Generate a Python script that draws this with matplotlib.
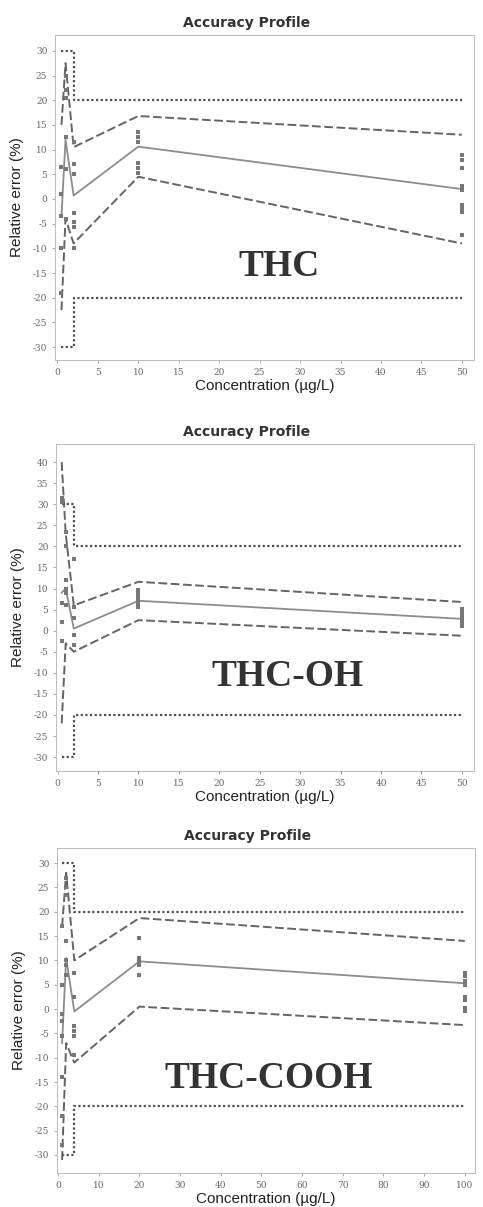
import matplotlib
matplotlib.use('Agg')
import matplotlib.pyplot as plt
import numpy as np

plt.rcParams['axes.unicode_minus'] = False

# ================= DATA =================
# THC
THC_CONC = [0.5, 1, 2, 10, 50]
THC_BIAS = [-3.5, 12, 0.7, 10.6, 2.0]
THC_UPPER = [15, 27.5, 10.5, 16.8, 13.0]
THC_LOWER = [-22.5, -4, -9, 4.5, -9.0]
THC_LIM_X = [0.5, 2, 2, 50]
THC_LIM_HI = [30, 30, 20, 20]
THC_LIM_LO = [-30, -30, -20, -20]
THC_POINTS = [
    [6.5, 1, -3.5, -10, -19],
    [25, 22, 20.5, 12.5, 6, -4],
    [11.6, 7, 5, -2.8, -4.6, -5.6, -10],
    [13.5, 12.5, 11.5, 7.2, 6.2, 5.3],
    [8.9, 7.9, 6.3, 2.6, 1.8, -1.2, -1.8, -2.6, -7.3],
]

# THC-OH
OH_CONC = [0.5, 1, 2, 10, 50]
OH_BIAS = [9, 10, 0.5, 7.1, 2.8]
OH_UPPER = [40, 23, 6, 11.6, 6.8]
OH_LOWER = [-22, -3, -5, 2.5, -1.2]
OH_LIM_X = [0.5, 2, 2, 50]
OH_LIM_HI = [30, 30, 20, 20]
OH_LIM_LO = [-30, -30, -20, -20]
OH_POINTS = [
    [31.5, 30.5, 6.5, 2, -2.5],
    [23.5, 20, 12, 10, 9, 6],
    [17, 5.5, 3, -1, -3.5],
    [9.7, 9, 8, 7, 6, 5.5],
    [5.2, 4.5, 3.5, 2.5, 2, 1.2],
]

# THC-COOH
COOH_CONC = [1, 2, 4, 20, 100]
COOH_BIAS = [-7, 10.5, -0.5, 9.8, 5.3]
COOH_UPPER = [17, 28, 10, 18.7, 14]
COOH_LOWER = [-31, -7, -11, 0.5, -3.3]
COOH_LIM_X = [1, 4, 4, 100]
COOH_LIM_HI = [30, 30, 20, 20]
COOH_LIM_LO = [-30, -30, -20, -20]
COOH_POINTS = [
    [17, 5, -1, -2.5, -5.5, -14, -22, -28],
    [27, 25, 23.5, 14, 10, 9, 7],
    [7.5, 2.5, -3.5, -4.5, -5.5, -9.5],
    [14.5, 10.5, 10, 9.5, 9, 7],
    [7.5, 6.8, 5.8, 5, 2.4, 1.8, 0.3, -0.3],
]

# ================= LAYOUT =================
FIG_W, FIG_H = 483, 1207
PANELS = [
    # axes box in px (left, top, right, bottom), ticks, limits, big label position
    dict(name='THC', conc=THC_CONC, bias=THC_BIAS, upper=THC_UPPER, lower=THC_LOWER,
         lim_x=THC_LIM_X, lim_hi=THC_LIM_HI, lim_lo=THC_LIM_LO, points=THC_POINTS,
         box=(55, 35, 474, 360), xticks=np.arange(0, 51, 5), xlim=(-0.3, 51.5),
         yticks=np.arange(-30, 31, 5), ylim=(-32.6, 33.2), label_xy=(27.4, -13.6)),
    dict(name='THC-OH', conc=OH_CONC, bias=OH_BIAS, upper=OH_UPPER, lower=OH_LOWER,
         lim_x=OH_LIM_X, lim_hi=OH_LIM_HI, lim_lo=OH_LIM_LO, points=OH_POINTS,
         box=(56, 444, 474, 771), xticks=np.arange(0, 51, 5), xlim=(-0.2, 51.5),
         yticks=np.arange(-30, 41, 5), ylim=(-33.3, 44.3), label_xy=(28.4, -10.9)),
    dict(name='THC-COOH', conc=COOH_CONC, bias=COOH_BIAS, upper=COOH_UPPER, lower=COOH_LOWER,
         lim_x=COOH_LIM_X, lim_hi=COOH_LIM_HI, lim_lo=COOH_LIM_LO, points=COOH_POINTS,
         box=(57, 848, 475, 1173), xticks=np.arange(0, 101, 10), xlim=(-0.25, 102.5),
         yticks=np.arange(-30, 31, 5), ylim=(-33.7, 33.1), label_xy=(51.7, -14.2)),
]


def draw_profile(fig, p):
    left, top, right, bottom = p['box']
    ax = fig.add_axes([left / FIG_W, 1 - bottom / FIG_H,
                       (right - left) / FIG_W, (bottom - top) / FIG_H])

    # acceptance limits
    ax.plot(p['lim_x'], p['lim_hi'], color='#505050', lw=1.6, ls=(0, (1, 1.1)))
    ax.plot(p['lim_x'], p['lim_lo'], color='#505050', lw=1.6, ls=(0, (1, 1.1)))

    # tolerance interval
    ax.plot(p['conc'], p['upper'], color='#646464', lw=1.4, ls=(0, (4.5, 1.8)))
    ax.plot(p['conc'], p['lower'], color='#646464', lw=1.4, ls=(0, (4.5, 1.8)))

    # mean bias
    ax.plot(p['conc'], p['bias'], color='#8c8c8c', lw=1.3)

    # individual results
    for c, vals in zip(p['conc'], p['points']):
        ax.plot([c] * len(vals), vals, 's', color='#777777', ms=2.2, mew=0)

    ax.set_xlim(*p['xlim'])
    ax.set_ylim(*p['ylim'])
    ax.set_xticks(p['xticks'])
    ax.set_yticks(p['yticks'])
    ax.tick_params(length=2.5, width=0.6, color='#999999', labelsize=6.5,
                   labelcolor='#666666', pad=3)
    for lab in ax.get_xticklabels() + ax.get_yticklabels():
        lab.set_family('DejaVu Serif')
    for sp in ax.spines.values():
        sp.set_color('#bbbbbb')
        sp.set_linewidth(0.7)

    ax.set_xlabel('Concentration (µg/L)', family='Liberation Sans', fontsize=11,
                  color='#222222', labelpad=1.5)
    ax.set_ylabel('Relative error (%)', family='Liberation Sans', fontsize=11,
                  color='#222222', labelpad=6)
    ax.text(0.456, 1.015, 'Accuracy Profile', transform=ax.transAxes, ha='center',
            va='bottom', fontsize=10, fontweight='bold', color='#333333')

    ax.text(p['label_xy'][0], p['label_xy'][1], p['name'], ha='center', va='center',
            family='Liberation Serif', fontweight='bold', fontsize=27, color='#333333')
    return ax


def main():
    fig = plt.figure(figsize=(FIG_W / 100, FIG_H / 100), dpi=100)
    for p in PANELS:
        draw_profile(fig, p)
    fig.savefig('out.png', dpi=100, facecolor='white')


if __name__ == "__main__":
    main()
